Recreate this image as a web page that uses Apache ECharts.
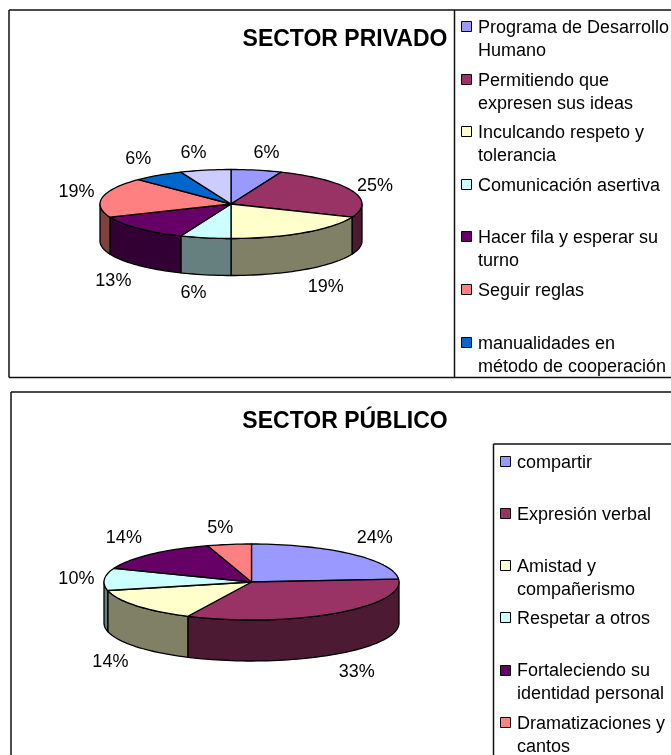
<!DOCTYPE html>
<html>
<head>
<meta charset="utf-8">
<style>html,body{margin:0;padding:0;background:#fff}#c{width:671px;height:755px}</style>
<script src="https://cdn.jsdelivr.net/npm/echarts@6/dist/echarts.min.js"></script>
</head>
<body>
<div id="c"></div>
<script>
// ---- data ----
const privadoNames = ['Programa de Desarrollo\nHumano','Permitiendo que\nexpresen sus ideas','Inculcando respeto y\ntolerancia','Comunicación asertiva','Hacer fila y esperar su\nturno','Seguir reglas','manualidades en\nmétodo de cooperación'];
const privadoValues = [6.25, 25, 18.75, 6.25, 12.5, 18.75, 6.25, 6.25];
const publicoNames = ['compartir','Expresión verbal','Amistad y\ncompañerismo','Respetar a otros','Fortaleciendo su\nidentidad personal','Dramatizaciones y\ncantos'];
const publicoValues = [23.8, 33.3, 14.3, 9.5, 14.3, 4.8];
const topColors = ['#9999FF','#993366','#FFFFCC','#CCFFFF','#660066','#FF8080','#0066CC','#CCCCFF'];
const sideColors = ['#4D4D80','#4D1A33','#808066','#668080','#330033','#804040','#003366','#666680'];

// ---- layout ----
const FONT = '"Liberation Sans", Arial, sans-serif';
const charts = [
  { title:'SECTOR PRIVADO', titleX:340, titleY:34.5, names:privadoNames, values:privadoValues,
    cx:231, cy:204, rx:131, ry:34.5, depth:37,
    labelNudge:[[10,-17],[23,-5],[22,17],[-12,18],[-25,16],[-26,-5],[-20,-16],[-12,-17]],
    swatchX:462, textX:478, legendY:27, legendStep:52.6 },
  { title:'SECTOR PÚBLICO', titleX:340, titleY:417, names:publicoNames, values:publicoValues,
    cx:251.5, cy:582, rx:147.5, ry:38, depth:41,
    labelNudge:[[23,-16.5],[22,17.5],[-26,15.5],[-28,0],[-27,-16.5],[-9,-16.5]],
    swatchX:501, textX:517, legendY:461.7, legendStep:52.2 }
];

function pt(c, deg, dy){
  const a = deg * Math.PI / 180;
  return [c.cx + c.rx * Math.sin(a), c.cy - c.ry * Math.cos(a) + (dy || 0)];
}
function arc(c, from, to, dy){
  const n = Math.max(2, Math.ceil(Math.abs(to - from) / 2)), out = [];
  for (let i = 0; i <= n; i++) out.push(pt(c, from + (to - from) * i / n, dy));
  return out;
}
function slices(c){
  const total = c.values.reduce((a, b) => a + b, 0);
  let acc = 0;
  return c.values.map(v => {
    const s = acc / total * 360; acc += v;
    return { start:s, end:acc / total * 360, value:v };
  });
}
const LINE = { stroke:'#000', lineWidth:1.3, lineJoin:'round' };

function series(c){
  const sl = slices(c);
  const data = c.values.map((v, i) => [i, v]);
  const base = { type:'custom', coordinateSystem:'none', silent:true, animation:false, clip:false, data };
  return [
    Object.assign({}, base, { z:2, renderItem(p, api){
      const i = api.value(0), s = sl[i];
      const a = Math.max(s.start, 90), b = Math.min(s.end, 270);
      if (b <= a) return { type:'group', children:[] };
      const pts = arc(c, a, b, 0).concat(arc(c, b, a, c.depth));
      return { type:'polygon', shape:{ points:pts }, style:Object.assign({ fill:sideColors[i] }, LINE) };
    }}),
    Object.assign({}, base, { z:3, renderItem(p, api){
      const i = api.value(0), s = sl[i];
      const pts = [[c.cx, c.cy]].concat(arc(c, s.start, s.end, 0));
      return { type:'polygon', shape:{ points:pts }, style:Object.assign({ fill:topColors[i] }, LINE) };
    }}),
    Object.assign({}, base, { z:4, renderItem(p, api){
      const i = api.value(0), s = sl[i], mid = (s.start + s.end) / 2;
      const low = mid > 90 && mid < 270;
      const q = pt(c, mid, low ? c.depth : 0), n = c.labelNudge[i];
      return { type:'text', x:q[0] + n[0], y:q[1] + n[1], style:{
        text:Math.round(api.value(1)) + '%', fill:'#000', font:'18px ' + FONT,
        align:'center', verticalAlign:'middle' } };
    }})
  ];
}

function legendGraphics(c){
  const out = [];
  c.names.forEach((name, i) => {
    const y = c.legendY + i * c.legendStep;
    out.push({ type:'rect', z:5, shape:{ x:c.swatchX - 0.5, y:Math.round(y) - 5.5, width:10, height:10 },
      style:{ fill:topColors[i], stroke:'#000', lineWidth:1 } });
    out.push({ type:'text', z:5, x:c.textX, y:y - 10.5, style:{
      text:name, fill:'#000', font:'18px ' + FONT, lineHeight:23, align:'left', verticalAlign:'top' } });
  });
  return out;
}
function seg(x1, y1, x2, y2){
  return { type:'line', z:1, shape:{ x1, y1, x2, y2 }, style:{ stroke:'#111', lineWidth:1.5 } };
}
const frames = [
  seg(9, 10, 671, 10), seg(9, 10, 9, 377.5), seg(9, 377.5, 671, 377.5), seg(454.5, 10, 454.5, 377.5),
  seg(11, 392, 671, 392), seg(11, 392, 11, 755), seg(493.5, 444, 671, 444), seg(493.5, 444, 493.5, 755)
];

const chart = echarts.init(document.getElementById('c'), null, { renderer:'canvas' });
chart.setOption({
  backgroundColor:'#fff',
  animation:false,
  title: charts.map(c => ({ text:c.title, left:c.titleX, top:c.titleY, textAlign:'center', textVerticalAlign:'middle',
    textStyle:{ fontFamily:FONT, fontWeight:'bold', fontSize:23, color:'#000' } })),
  series: charts.flatMap(series),
  graphic: { elements: frames.concat(charts.flatMap(legendGraphics)) }
});
</script>
</body>
</html>
